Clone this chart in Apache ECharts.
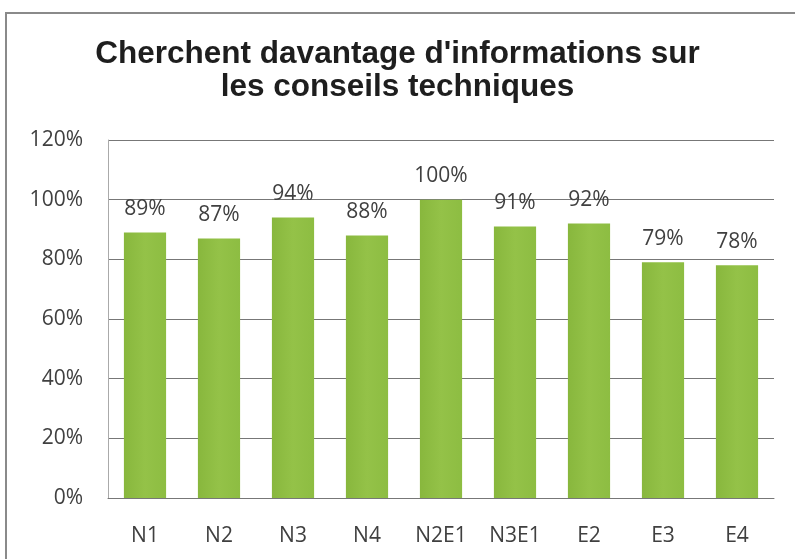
<!DOCTYPE html>
<html><head><meta charset="utf-8">
<script src="https://cdn.jsdelivr.net/npm/echarts@6/dist/echarts.min.js"></script>
<style>
html,body{margin:0;padding:0;background:#fff;}
#frame{position:absolute;left:5px;top:12px;width:820px;height:600px;border:2px solid #8a8a8a;box-sizing:border-box;}
#c{position:absolute;left:0;top:0;width:795px;height:559px;}
</style></head>
<body>
<div id="frame"></div>
<div id="c"></div>
<script>
const titleText = "Cherchent davantage d'informations sur\nles conseils techniques";
const categories = ["N1","N2","N3","N4","N2E1","N3E1","E2","E3","E4"];
const values = [89,87,94,88,100,91,92,79,78];
const yTicks = [0,20,40,60,80,100,120];

const chart = echarts.init(document.getElementById('c'));
chart.setOption({
  animation:false,
  title:{text:titleText,left:'center',top:33,
    textStyle:{fontFamily:'Liberation Sans',fontSize:31.5,fontWeight:'bold',color:'#1e1e1e',lineHeight:33}},
  grid:{left:108,right:21,top:140,bottom:61,containLabel:false},
  xAxis:{type:'category',data:categories,
    axisLine:{show:true,lineStyle:{color:'#777',width:1}},
    axisTick:{show:false},
    axisLabel:{fontFamily:'Open Sans',fontSize:21,color:'#404040',margin:28}},
  yAxis:{type:'value',min:0,max:120,interval:20,
    axisLine:{show:true,lineStyle:{color:'#aaa',width:1}},
    axisTick:{show:false},
    splitLine:{lineStyle:{color:'#777',width:1}},
    axisLabel:{fontFamily:'Open Sans',fontSize:21,color:'#404040',margin:25,
      formatter:v=>yTicks.includes(v)?v+'%':''}},
  series:[{type:'bar',data:values,barWidth:'57%',
    itemStyle:{color:new echarts.graphic.LinearGradient(0,0,1,0,[
      {offset:0,color:'#88b73d'},{offset:0.5,color:'#94c248'},{offset:1,color:'#8dbd42'}])},
    label:{show:true,position:'top',distance:13,formatter:p=>p.value+'%',
      fontFamily:'Open Sans',fontSize:21,color:'#404040'}}]
});
</script>
</body></html>
